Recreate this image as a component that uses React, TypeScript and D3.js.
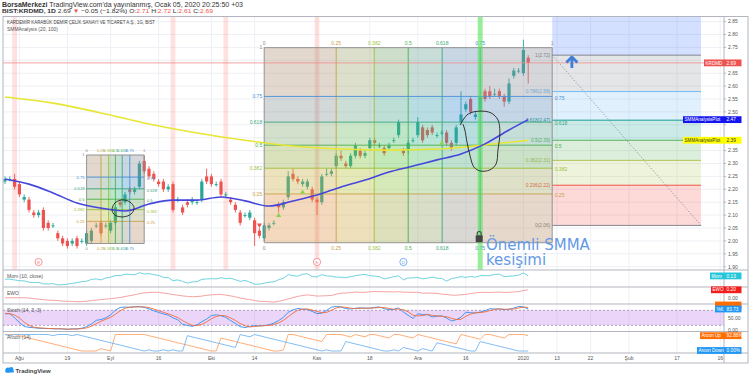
import React from "react";
import * as d3 from "d3";

// ---------- DATA ----------
const opens = [
  2.23, 2.24, 2.24, 2.22, 2.16, 2.16, 2.11, 2.10, 2.12, 2.07,
  2.06, 2.03, 2.01, 2.00, 1.99, 2.01, 2.00, 1.99, 2.00, 2.06,
  2.07, 2.06, 2.04, 2.07, 2.15, 2.15, 2.20, 2.19, 2.21, 2.31,
  2.28, 2.26, 2.23, 2.23, 2.20, 2.22, 2.16, 2.13, 2.15, 2.15,
  2.15, 2.16, 2.25, 2.25, 2.22, 2.23, 2.18, 2.16, 2.14, 2.11,
  2.10, 2.09, 2.08, 2.04, 2.01, 2.05, 2.07, 2.14, 2.13, 2.17,
  2.26, 2.24, 2.22, 2.21, 2.20, 2.16, 2.15, 2.26, 2.26, 2.29,
  2.33, 2.30, 2.29, 2.33, 2.35, 2.33, 2.36, 2.39, 2.37, 2.36,
  2.36, 2.39, 2.41, 2.35, 2.35, 2.39, 2.41, 2.44, 2.43, 2.44,
  2.41, 2.42, 2.42, 2.38, 2.38, 2.46, 2.51, 2.55, 2.48, 2.51,
  2.58, 2.58, 2.57, 2.58, 2.56, 2.54, 2.64, 2.66, 2.65, 2.71,
];
const highs = [
  2.25, 2.25, 2.26, 2.23, 2.18, 2.17, 2.12, 2.12, 2.13, 2.08,
  2.07, 2.04, 2.02, 2.01, 2.01, 2.02, 2.01, 2.04, 2.05, 2.07,
  2.08, 2.07, 2.08, 2.14, 2.16, 2.19, 2.21, 2.21, 2.31, 2.33,
  2.29, 2.27, 2.24, 2.24, 2.22, 2.23, 2.17, 2.14, 2.16, 2.17,
  2.16, 2.24, 2.28, 2.26, 2.23, 2.24, 2.19, 2.17, 2.15, 2.12,
  2.11, 2.12, 2.09, 2.05, 2.07, 2.07, 2.08, 2.15, 2.16, 2.27,
  2.28, 2.25, 2.24, 2.24, 2.21, 2.17, 2.26, 2.28, 2.28, 2.34,
  2.35, 2.31, 2.34, 2.38, 2.36, 2.35, 2.40, 2.40, 2.38, 2.37,
  2.38, 2.40, 2.47, 2.36, 2.39, 2.40, 2.48, 2.45, 2.44, 2.45,
  2.42, 2.43, 2.43, 2.39, 2.45, 2.58, 2.54, 2.56, 2.50, 2.56,
  2.59, 2.60, 2.59, 2.59, 2.57, 2.63, 2.67, 2.67, 2.78, 2.72,
];
const lows = [
  2.22, 2.23, 2.20, 2.17, 2.15, 2.11, 2.09, 2.09, 2.04, 2.04,
  2.05, 2.00, 1.98, 1.97, 1.98, 1.97, 1.99, 1.98, 1.99, 2.05,
  2.02, 2.05, 2.03, 2.06, 2.13, 2.14, 2.18, 2.18, 2.20, 2.26,
  2.24, 2.23, 2.21, 2.19, 2.19, 2.11, 2.15, 2.10, 2.13, 2.14,
  2.14, 2.15, 2.22, 2.21, 2.21, 2.17, 2.17, 2.14, 2.11, 2.06,
  2.09, 2.08, 1.98, 2.01, 2.00, 2.04, 2.06, 2.11, 2.12, 2.16,
  2.23, 2.22, 2.21, 2.20, 2.15, 2.10, 2.14, 2.25, 2.25, 2.28,
  2.31, 2.28, 2.28, 2.32, 2.32, 2.32, 2.35, 2.37, 2.36, 2.33,
  2.35, 2.38, 2.40, 2.33, 2.34, 2.38, 2.40, 2.38, 2.40, 2.41,
  2.40, 2.41, 2.37, 2.35, 2.37, 2.45, 2.50, 2.49, 2.47, 2.50,
  2.54, 2.55, 2.56, 2.55, 2.52, 2.53, 2.63, 2.65, 2.64, 2.61,
];
const closes = [
  2.24, 2.24, 2.21, 2.18, 2.17, 2.12, 2.10, 2.11, 2.05, 2.05,
  2.06, 2.01, 1.99, 1.98, 2.00, 1.98, 2.00, 2.03, 2.04, 2.06,
  2.03, 2.06, 2.07, 2.13, 2.14, 2.18, 2.19, 2.20, 2.30, 2.27,
  2.25, 2.24, 2.22, 2.20, 2.21, 2.12, 2.16, 2.11, 2.14, 2.16,
  2.15, 2.23, 2.23, 2.22, 2.22, 2.18, 2.18, 2.15, 2.12, 2.07,
  2.10, 2.11, 2.03, 2.02, 2.06, 2.06, 2.07, 2.13, 2.15, 2.25,
  2.24, 2.23, 2.23, 2.23, 2.16, 2.15, 2.25, 2.26, 2.27, 2.33,
  2.32, 2.29, 2.33, 2.37, 2.33, 2.34, 2.39, 2.38, 2.37, 2.34,
  2.37, 2.39, 2.46, 2.34, 2.38, 2.39, 2.46, 2.39, 2.41, 2.42,
  2.41, 2.42, 2.38, 2.36, 2.44, 2.49, 2.53, 2.50, 2.49, 2.56,
  2.55, 2.56, 2.57, 2.56, 2.54, 2.61, 2.66, 2.66, 2.74, 2.69,
];

// SMMA (20) – blue
const smma20Idx = [0, 5, 10, 15, 20, 25, 30, 35, 40, 45, 50, 55, 60, 65, 70, 75, 80, 85, 90, 95, 100, 105, 109];
const smma20Val = [2.24, 2.22, 2.186, 2.147, 2.127, 2.116, 2.143, 2.158, 2.158, 2.17, 2.155, 2.135, 2.155, 2.178, 2.209, 2.236, 2.267, 2.29, 2.314, 2.337, 2.376, 2.43, 2.47];
// SMMA (100) – yellow
const smma100Idx = [0, 10, 20, 30, 40, 50, 60, 70, 80, 90, 100, 109];
const smma100Val = [2.558, 2.534, 2.496, 2.453, 2.418, 2.39, 2.368, 2.356, 2.352, 2.356, 2.372, 2.39];

// x axis
const dateTickIdx = [3, 13, 22, 32, 43, 52, 65, 76, 86, 96, 108, 115, 122, 130, 140, 149];
const dateTickLabels = ["Ağu", "19", "Eyl", "16", "Eki", "14", "Kas", "18", "Ara", "16", "2020", "13", "22", "Şub", "17", "16"];
// price axis
const priceTicks = [1.9, 1.95, 2.0, 2.05, 2.1, 2.15, 2.2, 2.25, 2.3, 2.35, 2.4, 2.45, 2.5, 2.55, 2.6, 2.65, 2.7, 2.75, 2.8, 2.85];

// drawings
const gannLevels = [0, 0.25, 0.382, 0.5, 0.618, 0.75, 1];
const gannZoneColors = ["#e0954a", "#b8c23a", "#5cc23c", "#3cb88a", "#3b8fd1", "#8b8f9c"];
const gannLineColors = ["#8a8a8a", "#c9a24a", "#9bbf3a", "#4caf50", "#3aa87c", "#4b8fd6", "#8a8a8a"];
const gannBig = { i0: 54, i1: 114, p0: 1.993, p1: 2.749 };
const gannSmall = { i0: 17, i1: 29, p0: 1.99, p1: 2.333 };

const fibLevels = [0, 0.236, 0.382, 0.5, 0.618, 0.786, 1, 1.618];
const fibColors = ["#787b86", "#f44336", "#a9c24a", "#4caf50", "#009688", "#64b5f6", "#787b86", "#2962ff"];
const fib = { i0: 114, i1: 145, pTop: 2.72, pBot: 2.06 };

const pinkBandIdx = [2, 35, 46, 65];
const eventIdx = [7, 65, 83];
const eventType = ["E", "E", "D"];
const buyIdx = [57, 62, 91];
const buyPrice = [2.10, 2.19, 2.38];
const sellIdx = [53];
const sellPrice = [2.06];
const greenLineIdx = 99;

const smallLoopI = [22.3, 22.9, 24.4, 26.0, 26.9, 26.25, 24.6, 22.9];
const smallLoopP = [2.12, 2.147, 2.159, 2.151, 2.128, 2.104, 2.093, 2.1];
const bigLoopI = [94.8, 96.5, 99.0, 101.25, 102.7, 103.1, 102.7, 102.3, 101.0, 99.0, 97.7, 96.9, 96.25, 95.8, 95.4];
const bigLoopP = [2.449, 2.492, 2.503, 2.496, 2.469, 2.422, 2.352, 2.298, 2.275, 2.271, 2.286, 2.329, 2.383, 2.43, 2.453];

// ---------- LAYOUT ----------
const PL = 3, AX = 724, FR = 748;
const MT = 16.5, MB = 270;
const MOM_T = 270, MOM_B = 287;
const EWO_T = 287, EWO_B = 304;
const ST_T = 304, ST_B = 331.5;
const AR_T = 331.5, AR_B = 353;
const XB = 363;
const FONT = "'Liberation Sans', Arial, sans-serif";
const UP = "#26a69a", DN = "#ef5350";

const sma = (arr: number[], n: number, i: number) => d3.mean(arr.slice(Math.max(0, i - n + 1), i + 1)) as number;

function AxisTag({ y, name, value, fill, color, left }: any) {
  return (
    <g>
      <rect x={left} y={y - 3.4} width={741.5 - left} height={6.8} fill={fill} />
      {name ? <text x={left + 1.5} y={y + 1.7} fontSize={4.6} fill={color} fontFamily={FONT}>{name}</text> : null}
      {value ? <text x={726.5} y={y + 1.7} fontSize={4.8} fill={color} fontFamily={FONT}>{value}</text> : null}
    </g>
  );
}

function Gann({ g, x, y, fs }: any) {
  const gx = (lv: number) => x(g.i0 + lv * (g.i1 - g.i0));
  const gy = (lv: number) => y(g.p0 + lv * (g.p1 - g.p0));
  const X0 = gx(0), X1 = gx(1), Y0 = gy(0), Y1 = gy(1);
  return (
    <g>
      {gannLevels.slice(0, -1).map((lv, k) => (
        <rect key={"v" + k} x={gx(lv)} y={Y1} width={gx(gannLevels[k + 1]) - gx(lv)} height={Y0 - Y1} fill={gannZoneColors[k]} fillOpacity={0.2} />
      ))}
      {gannLevels.slice(0, -1).map((lv, k) => (
        <rect key={"h" + k} x={X0} y={gy(gannLevels[k + 1])} width={X1 - X0} height={gy(lv) - gy(gannLevels[k + 1])} fill={gannZoneColors[k]} fillOpacity={0.2} />
      ))}
      {gannLevels.map((lv, k) => (
        <g key={"l" + k}>
          <line x1={gx(lv)} x2={gx(lv)} y1={Y1} y2={Y0} stroke={gannLineColors[k]} strokeWidth={0.9} />
          <line x1={X0} x2={X1} y1={gy(lv)} y2={gy(lv)} stroke={gannLineColors[k]} strokeWidth={0.9} />
          <text x={gx(lv)} y={Y1 - 2.5} fontSize={fs} fill={gannLineColors[k]} textAnchor="middle" fontFamily={FONT}>{String(lv)}</text>
          {lv < 1 ? (
            <text x={gx(lv)} y={Y0 + 2.5 + fs} fontSize={fs} fill={gannLineColors[k]} textAnchor="middle" fontFamily={FONT}>{String(lv)}</text>
          ) : null}
          {lv > 0 ? (
            <text x={X0 - 2} y={gy(lv) + fs * 0.35} fontSize={fs} fill={gannLineColors[k]} textAnchor="end" fontFamily={FONT}>{String(lv)}</text>
          ) : null}
          {lv > 0 && lv < 1 ? (
            <text x={X1 + 2.5} y={gy(lv) + fs * 0.35 + 1.5} fontSize={fs} fill={gannLineColors[k]} textAnchor="start" fontFamily={FONT}>{String(lv)}</text>
          ) : null}
        </g>
      ))}
    </g>
  );
}

export default function App() {
  const N = closes.length;
  const x = d3.scaleLinear().domain([0, 150]).range([5, 725]);
  const y = d3.scaleLinear().domain([1.9, 2.85]).range([266.7, 21.6]);
  const bw = 3.2;

  // indicators derived from the candles
  const mom = closes.map((c, i) => c - closes[Math.max(0, i - 10)]);
  const ewo = closes.map((_, i) => sma(closes, 5, i) - sma(closes, 35, i));
  const rawK = closes.map((c, i) => {
    const s = Math.max(0, i - 13);
    const hh = d3.max(highs.slice(s, i + 1)) as number;
    const ll = d3.min(lows.slice(s, i + 1)) as number;
    return hh === ll ? 50 : (100 * (c - ll)) / (hh - ll);
  });
  const stK = rawK.map((_, i) => sma(rawK, 3, i));
  const stD = stK.map((_, i) => sma(stK, 3, i));
  const aroon = (arr: number[], hi: boolean) =>
    arr.map((_, i) => {
      const s = Math.max(0, i - 14);
      let bi = s;
      for (let j = s; j <= i; j++) if (hi ? arr[j] >= arr[bi] : arr[j] <= arr[bi]) bi = j;
      return (100 * (14 - (i - bi))) / 14;
    });
  const arUp = aroon(highs, true);
  const arDn = aroon(lows, false);

  const momExt = d3.extent(mom) as [number, number];
  const yMom = d3.scaleLinear().domain([momExt[0] * 1.1, momExt[1] * 1.1]).range([MOM_B - 1.5, MOM_T + 2]);
  const ewoExt = d3.extent(ewo) as [number, number];
  const yEwo = d3.scaleLinear().domain([ewoExt[0] * 1.1, ewoExt[1] * 1.1]).range([EWO_B - 1.5, EWO_T + 2]);
  const ySt = d3.scaleLinear().domain([0, 100]).range([330.3, 305.3]);
  const yAr = d3.scaleLinear().domain([0, 100]).range([351, 334.5]);

  const idx = d3.range(N);
  const lineOf = (vals: number[], ys: any) =>
    d3.line<number>().x((i) => x(i)).y((i) => ys(vals[i]))(idx) as string;
  const smmaLine = (I: number[], V: number[]) =>
    d3.line<number>().x((k) => x(I[k])).y((k) => y(V[k])).curve(d3.curveMonotoneX)(d3.range(I.length)) as string;

  const last = N - 1;
  const fx0 = x(fib.i0), fx1 = x(fib.i1);
  const fibP = (lv: number) => fib.pBot + lv * (fib.pTop - fib.pBot);

  const smallLoop = d3.line<number>().x((k) => x(smallLoopI[k])).y((k) => y(smallLoopP[k])).curve(d3.curveCatmullRomClosed)(d3.range(smallLoopI.length)) as string;
  const bigLoop = d3.line<number>().x((k) => x(bigLoopI[k])).y((k) => y(bigLoopP[k])).curve(d3.curveCatmullRom)(d3.range(bigLoopI.length)) as string;

  const arrowX = x(118.1), arrowY = y(2.693);
  const lockX = x(greenLineIdx) - 1, lockY = y(2.015);

  const momTagY = yMom(mom[last]);
  const ewoTagY = yEwo(ewo[last]);
  const priceTagYs = [y(closes[last]), y(smma20Val[smma20Val.length - 1]), y(smma100Val[smma100Val.length - 1])];

  return (
    <svg width={750} height={377} style={{ position: "absolute", left: 0, top: 0 }} fontFamily={FONT}>
      <rect width={750} height={377} fill="#fff" />
      <defs>
        <clipPath id="mainClip"><rect x={PL} y={MT} width={AX - PL} height={MB - MT} /></clipPath>
        <clipPath id="paneClip"><rect x={PL} y={MB} width={AX - PL} height={AR_B - MB} /></clipPath>
      </defs>

      {/* header */}
      <text x={2} y={6.8} fontSize={6.4} fill="#333" textLength={241} lengthAdjust="spacingAndGlyphs">
        <tspan fontWeight="bold">BorsaMerkezi</tspan> TradingView.com'da yayınlanmış, Ocak 05, 2020 20:25:50 +03
      </text>
      <text x={2} y={13} fontSize={6.2} fill="#333" textLength={211} lengthAdjust="spacingAndGlyphs">
        <tspan fontWeight="bold">BIST:KRDMD, 1D</tspan> 2.69 <tspan fill={DN}>▼</tspan> −0.05 (−1.82%) O:<tspan fill={DN}>2.71</tspan> H:<tspan fill={DN}>2.72</tspan> L:<tspan fill={DN}>2.61</tspan> C:<tspan fill={DN}>2.69</tspan>
      </text>

      {/* grid */}
      {dateTickIdx.map((d, k) => (
        <line key={"vg" + k} x1={x(d)} x2={x(d)} y1={MT} y2={AR_B} stroke="#eef0f5" strokeWidth={1} />
      ))}
      {priceTicks.map((p, k) => (
        <line key={"hg" + k} x1={PL} x2={AX} y1={y(p)} y2={y(p)} stroke="#eef0f5" strokeWidth={1} />
      ))}

      <g clipPath="url(#mainClip)">
        {/* pink highlight bands */}
        {pinkBandIdx.map((b, k) => (
          <rect key={"pb" + k} x={x(b) - 2.4} y={MT} width={4.8} height={MB - MT} fill="#ff8a80" fillOpacity={0.25} />
        ))}

        {/* fib retracement */}
        <g>
          {fibLevels.slice(0, -1).map((lv, k) => (
            <rect key={"fb" + k} x={fx0} width={fx1 - fx0} y={y(fibP(fibLevels[k + 1]))} height={y(fibP(lv)) - y(fibP(fibLevels[k + 1]))} fill={fibColors[k + 1]} fillOpacity={0.2} />
          ))}
          {fibLevels.slice(0, -1).map((lv, k) => (
            <g key={"fl" + k}>
              <line x1={fx0} x2={fx1} y1={y(fibP(lv))} y2={y(fibP(lv))} stroke={fibColors[k]} strokeWidth={0.9} />
              <text x={fx0 - 2} y={y(fibP(lv)) + 1.7} fontSize={4.8} fill={fibColors[k]} textAnchor="end">{`${lv}(${fibP(lv).toFixed(2)})`}</text>
            </g>
          ))}
          <line x1={fx0} y1={y(fib.pTop)} x2={fx1} y2={y(fib.pBot)} stroke="#8a8d96" strokeWidth={0.9} strokeDasharray="1.2,1.8" />
        </g>

        {/* candles */}
        {idx.map((i) => {
          const up = closes[i] >= opens[i];
          const col = up ? UP : DN;
          const top = y(Math.max(opens[i], closes[i]));
          const bot = y(Math.min(opens[i], closes[i]));
          return (
            <g key={"c" + i}>
              <line x1={x(i)} x2={x(i)} y1={y(highs[i])} y2={y(lows[i])} stroke={col} strokeWidth={0.9} />
              <rect x={x(i) - bw / 2} y={top} width={bw} height={Math.max(0.9, bot - top)} fill={col} />
            </g>
          );
        })}

        {/* gann boxes */}
        <Gann g={gannBig} x={x} y={y} fs={5} />
        <Gann g={gannSmall} x={x} y={y} fs={4.2} />

        {/* current price line */}
        <line x1={PL} x2={AX} y1={y(closes[last])} y2={y(closes[last])} stroke="#f08a8a" strokeWidth={0.8} />

        {/* green vertical line */}
        <rect x={x(greenLineIdx) - 2.5} y={MT} width={5} height={MB - MT} fill="#56e356" fillOpacity={0.6} />

        {/* SMMA lines */}
        <path d={smmaLine(smma100Idx, smma100Val)} fill="none" stroke="#e6e635" strokeWidth={1.6} />
        <path d={smmaLine(smma20Idx, smma20Val)} fill="none" stroke="#4646dc" strokeWidth={1.6} />

        {/* signals */}
        {buyIdx.map((b, k) => {
          const cx = x(b), cy = y(buyPrice[k]);
          return <path key={"bs" + k} d={`M${cx},${cy - 2.5}L${cx + 2.5},${cy + 1.8}L${cx - 2.5},${cy + 1.8}Z`} fill="#8fd14f" />;
        })}
        {sellIdx.map((b, k) => {
          const cx = x(b), cy = y(sellPrice[k]);
          return <path key={"ss" + k} d={`M${cx},${cy + 2.5}L${cx + 2.5},${cy - 1.8}L${cx - 2.5},${cy - 1.8}Z`} fill={DN} />;
        })}

        {/* hand drawn loops */}
        <path d={smallLoop} fill="none" stroke="#222" strokeWidth={0.9} />
        <path d={bigLoop} fill="none" stroke="#222" strokeWidth={0.9} />

        {/* arrow */}
        <path d={`M${arrowX - 5.5},${arrowY + 0.5}L${arrowX},${arrowY - 5}L${arrowX + 5.5},${arrowY + 0.5}`} fill="none" stroke="#3d7fd9" strokeWidth={2.8} strokeLinejoin="round" />
        <line x1={arrowX} x2={arrowX} y1={arrowY - 4} y2={arrowY + 6} stroke="#3d7fd9" strokeWidth={2.8} />

        {/* lock */}
        <path d={`M${lockX - 2},${lockY - 1.5}V${lockY - 3.5}A2,2 0 0 1 ${lockX + 2},${lockY - 3.5}V${lockY - 1.5}`} fill="none" stroke="#444" strokeWidth={1.1} />
        <rect x={lockX - 3.5} y={lockY - 1.8} width={7} height={7} rx={1} fill="#444" />

        {/* annotation text */}
        <text x={x(100.2)} y={y(1.965)} fontSize={15} fill="#6499e6" fontFamily="'DejaVu Sans', Verdana, sans-serif">Önemli SMMA</text>
        <text x={x(100.2)} y={y(1.907)} fontSize={15} fill="#6499e6" fontFamily="'DejaVu Sans', Verdana, sans-serif">kesişimi</text>

        {/* events */}
        {eventIdx.map((e, k) => {
          const c = eventType[k] === "E" ? "#f47c7c" : "#5b9cf6";
          return (
            <g key={"ev" + k}>
              <circle cx={x(e)} cy={MB - 8} r={3.6} fill="#fff" stroke={c} strokeWidth={0.8} />
              <text x={x(e)} y={MB - 6.4} fontSize={4.4} fill={c} textAnchor="middle">{eventType[k]}</text>
            </g>
          );
        })}
      </g>

      {/* pane titles */}
      <text x={7} y={24} fontSize={5.4} fill="#444" textLength={148} lengthAdjust="spacingAndGlyphs">KARDEMİR KARABÜK DEMİR ÇELİK SANAYİ VE TİCARET A.Ş., 1G, BIST</text>
      <text x={7} y={31} fontSize={5.2} fill="#555" textLength={51} lengthAdjust="spacingAndGlyphs">SMMAnalysis (20, 100)</text>

      {/* indicator panes */}
      <g clipPath="url(#paneClip)">
        <rect x={PL} y={ySt(80)} width={AX - PL} height={ySt(20) - ySt(80)} fill="#b15be6" fillOpacity={0.25} />
        <line x1={PL} x2={AX} y1={ySt(80)} y2={ySt(80)} stroke="#8e7aa6" strokeWidth={0.7} strokeDasharray="2,2" />
        <line x1={PL} x2={AX} y1={ySt(20)} y2={ySt(20)} stroke="#8e7aa6" strokeWidth={0.7} strokeDasharray="2,2" />
        <path d={lineOf(mom, yMom)} fill="none" stroke="#6fd3de" strokeWidth={1} />
        <path d={lineOf(ewo, yEwo)} fill="none" stroke="#f5a3a3" strokeWidth={1} />
        <path d={lineOf(stK, ySt)} fill="none" stroke="#2f8ff0" strokeWidth={0.9} />
        <path d={lineOf(stD, ySt)} fill="none" stroke="#f26b3a" strokeWidth={0.9} />
        <path d={lineOf(arUp, yAr)} fill="none" stroke="#ffa466" strokeWidth={0.9} />
        <path d={lineOf(arDn, yAr)} fill="none" stroke="#72b6f2" strokeWidth={0.9} />
      </g>
      <text x={7} y={278} fontSize={5} fill="#555">Mom (10, close)</text>
      <text x={7} y={295} fontSize={5} fill="#555">EWO</text>
      <text x={7} y={312} fontSize={5} fill="#555">Stoch (14, 3, 3)</text>
      <text x={7} y={339} fontSize={5} fill="#555">Aroon (14)</text>

      {/* frame & separators */}
      <rect x={PL} y={MT} width={FR - PL} height={XB - MT} fill="none" stroke="#b2b5be" strokeWidth={1} />
      {[MB, EWO_T, ST_T, AR_T, AR_B].map((yy, k) => (
        <line key={"sep" + k} x1={PL} x2={FR} y1={yy} y2={yy} stroke="#b2b5be" strokeWidth={1} />
      ))}
      <line x1={AX} x2={AX} y1={MT} y2={XB} stroke="#b2b5be" strokeWidth={1} />

      {/* price axis */}
      {priceTicks.map((p, k) => (
        <g key={"pt" + k}>
          <line x1={AX} x2={AX + 2} y1={y(p)} y2={y(p)} stroke="#b2b5be" />
          {priceTagYs.every((ty) => Math.abs(ty - y(p)) > 6) ? (
            <text x={728} y={y(p) + 1.8} fontSize={5} fill="#555">{p.toFixed(2)}</text>
          ) : null}
        </g>
      ))}
      {Math.abs(yMom(0) - momTagY) > 7 ? <text x={728} y={yMom(0) + 1.8} fontSize={5} fill="#555">0.00</text> : null}
      {Math.abs(yEwo(0) - ewoTagY) > 7 ? <text x={728} y={yEwo(0) + 1.8} fontSize={5} fill="#555">0.00</text> : null}
      <text x={728} y={ySt(50) + 1.8} fontSize={5} fill="#555">50.00</text>
      <text x={728} y={ySt(0) + 1.5} fontSize={5} fill="#555">0.00</text>

      {/* date axis */}
      {dateTickIdx.map((d, k) => (
        <text key={"dt" + k} x={x(d)} y={359.5} fontSize={5} fill="#555" textAnchor="middle">{dateTickLabels[k]}</text>
      ))}

      {/* axis tags */}
      <AxisTag y={priceTagYs[0]} name="KRDMD" value="2.69" fill="#ef5350" color="#fff" left={704} />
      <AxisTag y={priceTagYs[1]} name="SMMAnalysisPlot" value="2.47" fill="#1414f0" color="#fff" left={683} />
      <AxisTag y={priceTagYs[2]} name="SMMAnalysisPlot" value="2.39" fill="#ffff00" color="#333" left={683} />
      <AxisTag y={momTagY} name="Mom" value="0.13" fill="#26c6da" color="#fff" left={710} />
      <AxisTag y={ewoTagY} name="EWO" value="0.20" fill="#f41d1d" color="#fff" left={711} />
      <AxisTag y={Math.min(ySt(stD[last]), ySt(stK[last]) - 4)} name="" value="" fill="#ff6d00" color="#fff" left={715} />
      <AxisTag y={ySt(stK[last])} name="%K" value="83.73" fill="#2196f3" color="#fff" left={715} />
      <AxisTag y={yAr(arUp[last])} name="Aroon Up" value={arUp[last].toFixed(2) + "%"} fill="#ff6d00" color="#fff" left={700} />
      <AxisTag y={yAr(arDn[last]) - 0.5} name="Aroon Down" value={arDn[last].toFixed(2) + "%"} fill="#2196f3" color="#fff" left={697} />

      {/* TradingView logo */}
      <g>
        <circle cx={8} cy={370} r={2.6} fill="#2196f3" />
        <circle cx={11.2} cy={369.2} r={2.2} fill="#2196f3" />
        <rect x={5.4} y={370} width={8.5} height={2.6} rx={1.2} fill="#2196f3" />
        <text x={15.5} y={372.5} fontSize={6} fill="#444" fontWeight="bold">TradingView</text>
      </g>
    </svg>
  );
}
